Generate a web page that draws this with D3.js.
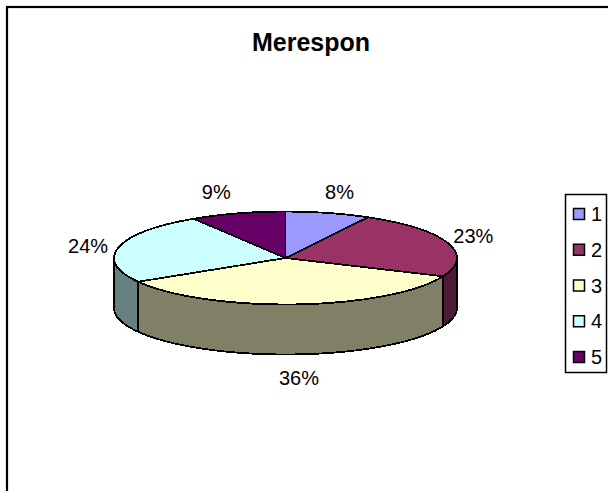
<!DOCTYPE html>
<html><head><meta charset="utf-8">
<script src="https://cdn.jsdelivr.net/npm/d3@7"></script>
<style>html,body{margin:0;background:#fff}svg{display:block}text{font-family:"Liberation Sans",Arial,sans-serif;fill:#000}</style>
</head><body><script>
const title = "Merespon";
const categories = ["1","2","3","4","5"];
const values = [8,23,36,24,9];
const topColors = ["#9999ff","#993366","#ffffcc","#ccffff","#660066"];
const sideColors = ["#4d4d80","#4d1a33","#808066","#668080","#330033"];

const W=608,H=491, cx=285.5, cy=258, rx=171.5, ry=46.5, depth=50;
const fontSize=20;
const svg=d3.select("body").append("svg").attr("width",W).attr("height",H);
svg.append("rect").attr("width",W).attr("height",H).attr("fill","#fff");
svg.append("rect").attr("x",7).attr("y",7).attr("width",W+20).attr("height",H+20)
   .attr("fill","#fff").attr("stroke","#000").attr("stroke-width",2.2);
svg.append("text").attr("x",311).attr("y",51).attr("text-anchor","middle")
   .attr("font-size",25).attr("font-weight","bold").text(title);

const lo=Math.PI/2, hi=3*Math.PI/2;
// the front half of a tilted 3D pie is foreshortened slightly by perspective
const warp=t=>(t>lo&&t<hi)? t-0.04*Math.sin(2*t) : t;
const arcs=d3.pie().sort(null).value(d=>d)(values)
  .map(d=>({...d,startAngle:warp(d.startAngle),endAngle:warp(d.endAngle)}));
const px=t=>cx+rx*Math.sin(t), py=(t,z=0)=>cy-ry*Math.cos(t)+z;
const segs=(a,b)=>d3.range(0,41).map(i=>a+(b-a)*i/40);

// wall
const wall=svg.append("g").attr("stroke","#000").attr("stroke-width",1.8).attr("stroke-linejoin","round").attr("shape-rendering","crispEdges");
const line=d3.line();
arcs.forEach((d,i)=>{
  const a=Math.max(d.startAngle,lo), b=Math.min(d.endAngle,hi);
  if(a>=b) return;
  const ts=segs(a,b);
  const pts=ts.map(t=>[px(t),py(t)]).concat(ts.slice().reverse().map(t=>[px(t),py(t,depth)]));
  wall.append("path").attr("d",line(pts)+"Z").attr("fill",sideColors[i]);
});
// top
const arc=d3.arc().innerRadius(0).outerRadius(rx);
const face=svg.append("g").attr("transform",`translate(${cx},${cy}) scale(1,${ry/rx})`);
face.selectAll("path").data(arcs).join("path").attr("d",arc)
   .attr("fill",(d,i)=>topColors[i]).attr("stroke","#000").attr("stroke-width",1.8)
   .attr("stroke-linejoin","round").attr("vector-effect","non-scaling-stroke")
   .attr("shape-rendering","crispEdges");

// labels
const fmt=d3.format(".0%"), total=d3.sum(values);
const labelRx=205,labelRy=66;
const nudge=[[3,-2],[-6,0],[0,4],[2,3],[-12,-3]];
svg.selectAll("text.l").data(arcs).join("text").attr("class","l")
  .attr("font-size",fontSize).attr("text-anchor","middle")
  .attr("x",(d,i)=>cx+labelRx*Math.sin((d.startAngle+d.endAngle)/2)+nudge[i][0])
  .attr("y",(d,i)=>{const m=(d.startAngle+d.endAngle)/2;return cy-labelRy*Math.cos(m)+(Math.cos(m)<-0.5?depth:0)+7+nudge[i][1];})
  .text(d=>fmt(d.value/total));

// legend
svg.append("rect").attr("x",565.5).attr("y",194.5).attr("width",41).attr("height",178)
   .attr("fill","#fff").attr("stroke","#000").attr("stroke-width",1.5);
const ly=d3.scalePoint().domain(categories).range([214,357]);
const leg=svg.selectAll("g.k").data(categories).join("g").attr("class","k")
   .attr("transform",d=>`translate(0,${ly(d)})`);
leg.append("rect").attr("x",573.5).attr("y",-5.5).attr("width",11).attr("height",11)
   .attr("fill",(d,i)=>topColors[i]).attr("stroke","#000").attr("stroke-width",1.5);
leg.append("text").attr("x",591).attr("y",7).attr("font-size",fontSize).text(d=>d);
</script></body></html>
